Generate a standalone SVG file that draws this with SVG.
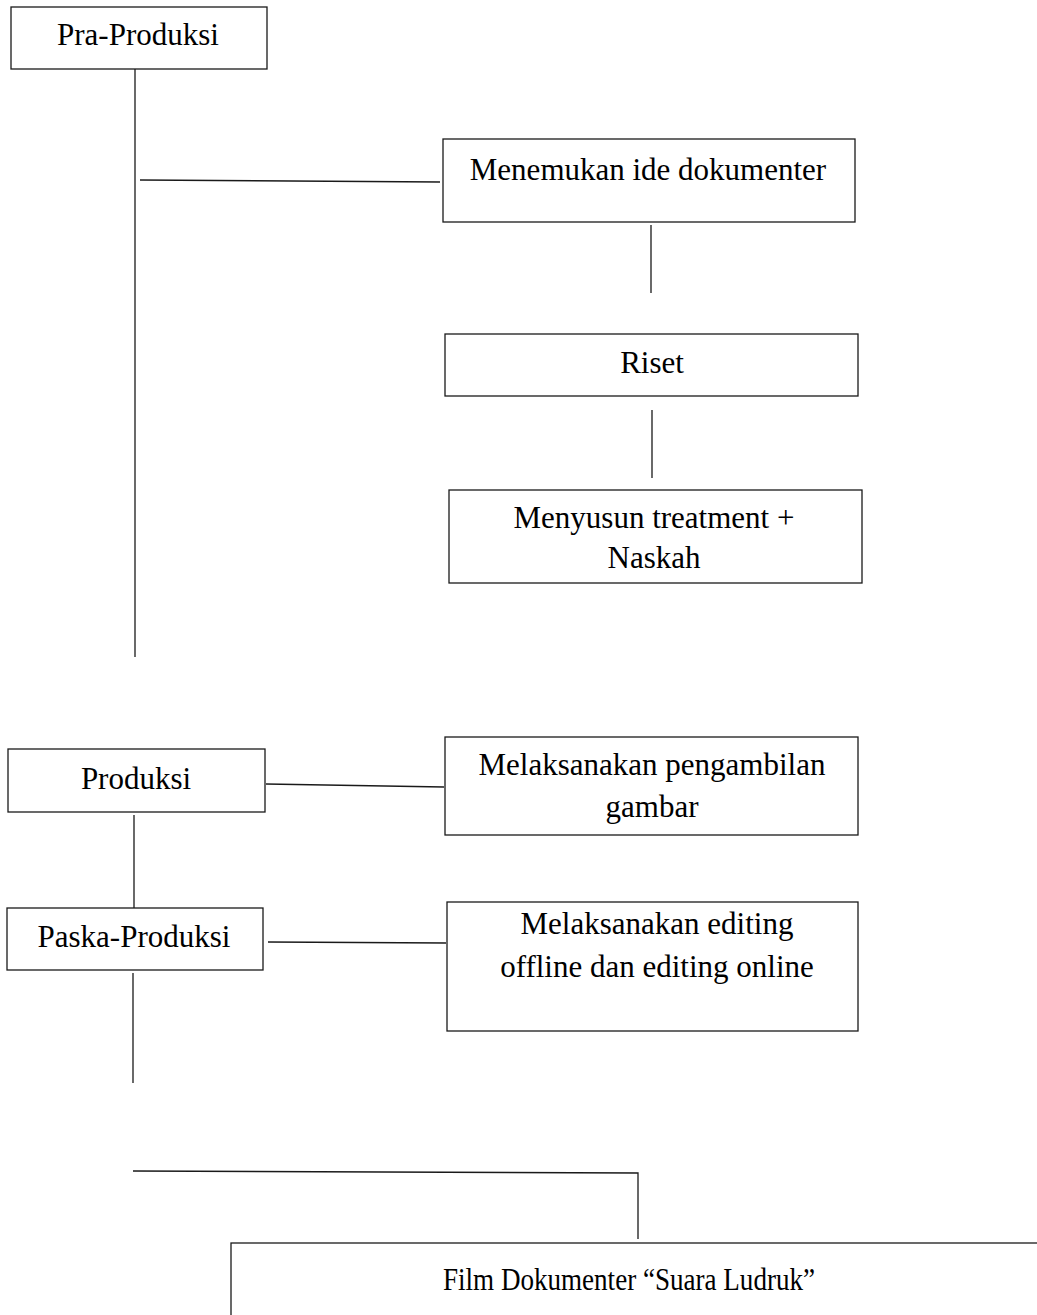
<svg xmlns="http://www.w3.org/2000/svg" width="1037" height="1315" viewBox="0 0 1037 1315">
<style>
.box{fill:#fff;stroke:#1a1a1a;stroke-width:1.3}
.ln{stroke:#1a1a1a;stroke-width:1.3;fill:none}
.t{font-family:"Liberation Serif","Times New Roman",serif;font-size:31px;fill:#000;text-anchor:middle}
</style>
<rect width="1037" height="1315" fill="#fff"/>
<g id="connectors">
<line class="ln" x1="135" y1="51" x2="135" y2="657"/>
<line class="ln" x1="140" y1="180" x2="440" y2="182"/>
<line class="ln" x1="651" y1="225" x2="651" y2="293"/>
<line class="ln" x1="652" y1="410" x2="652" y2="478"/>
<line class="ln" x1="266" y1="784" x2="444" y2="787"/>
<line class="ln" x1="134" y1="815" x2="134" y2="908"/>
<line class="ln" x1="268" y1="942" x2="446" y2="943"/>
<line class="ln" x1="133" y1="973" x2="133" y2="1083"/>
<polyline class="ln" points="133,1171 638,1173 638,1239"/>
</g>
<g id="pra-produksi">
<rect class="box" x="11" y="7" width="256" height="62"/>
<text class="t" x="138" y="45">Pra-Produksi</text>
</g>
<g id="menemukan-ide">
<rect class="box" x="443" y="139" width="412" height="83"/>
<text class="t" x="648" y="180">Menemukan ide dokumenter</text>
</g>
<g id="riset">
<rect class="box" x="445" y="334" width="413" height="62"/>
<text class="t" x="652" y="373">Riset</text>
</g>
<g id="menyusun">
<rect class="box" x="449" y="490" width="413" height="93"/>
<text class="t" x="654" y="528">Menyusun treatment +</text>
<text class="t" x="654" y="568">Naskah</text>
</g>
<g id="produksi">
<rect class="box" x="8" y="749" width="257" height="63"/>
<text class="t" x="136" y="789">Produksi</text>
</g>
<g id="pengambilan-gambar">
<rect class="box" x="445" y="737" width="413" height="98"/>
<text class="t" x="652" y="775">Melaksanakan pengambilan</text>
<text class="t" x="652" y="817">gambar</text>
</g>
<g id="paska-produksi">
<rect class="box" x="7" y="908" width="256" height="62"/>
<text class="t" x="134" y="947">Paska-Produksi</text>
</g>
<g id="editing">
<rect class="box" x="447" y="902" width="411" height="129"/>
<text class="t" x="657" y="934">Melaksanakan editing</text>
<text class="t" x="657" y="977">offline dan editing online</text>
</g>
<g id="film-dokumenter">
<rect class="box" x="231" y="1243" width="830" height="100"/>
<text class="t" x="629" y="1290" textLength="372" lengthAdjust="spacingAndGlyphs">Film Dokumenter “Suara Ludruk”</text>
</g>
</svg>
